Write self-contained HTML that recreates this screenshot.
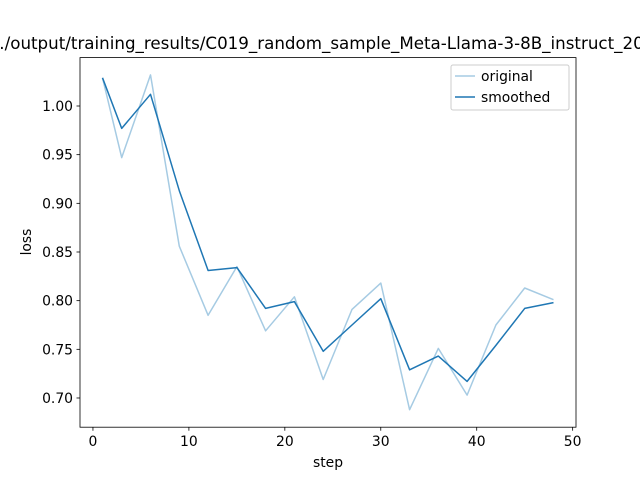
<!DOCTYPE html>
<html><head><meta charset="utf-8"><style>
body{margin:0;background:#fff}
svg text{font-family:"DejaVu Sans","Liberation Sans",sans-serif;fill:#000}
</style></head><body>
<svg id="s" width="640" height="480" viewBox="0 0 640 480" xmlns="http://www.w3.org/2000/svg">
<rect width="640" height="480" fill="#fff"/>
<text x="-6" y="49" font-size="16.7">../output/training_results/C019_random_sample_Meta-Llama-3-8B_instruct_20240101</text>
<g id="plot"></g>
<rect x="80" y="57.6" width="496" height="369.6" fill="none" stroke="#000" stroke-width="0.8"/>
<g id="ticks" font-size="13.9"></g>
<text x="328" y="467" font-size="13.9" text-anchor="middle">step</text>
<text transform="translate(31,242) rotate(-90)" font-size="13.9" text-anchor="middle">loss</text>
<rect x="451" y="65" width="118" height="45" rx="2" fill="#fff" fill-opacity="0.8" stroke="#ccc" stroke-width="1"/>
<line x1="455" y1="76" x2="475" y2="76" stroke="#a6cbe3" stroke-width="1.5"/>
<text x="481" y="81" font-size="13.9">original</text>
<line x1="455" y1="97" x2="475" y2="97" stroke="#1f77b4" stroke-width="1.5"/>
<text x="481" y="102" font-size="13.9">smoothed</text>
</svg>
<script>
var st=[1,3,6,9,12,15,18,21,24,27,30,33,36,39,42,45,48];
var o=[1.029,0.947,1.032,0.856,0.785,0.835,0.769,0.804,0.719,0.791,0.818,0.688,0.751,0.703,0.775,0.813,0.801];
var sm=[1.029,0.977,1.012,0.913,0.831,0.834,0.792,0.799,0.748,0.775,0.802,0.729,0.743,0.717,0.754,0.792,0.798];
function X(s){return 92.95+s*9.594}
function Y(v){return 106+(1-v)*973.3}
function pl(a,c){return '<polyline fill="none" stroke="'+c+'" stroke-width="1.5" stroke-linejoin="round" points="'+st.map(function(s,i){return X(s).toFixed(1)+','+Y(a[i]).toFixed(1)}).join(' ')+'"/>'}
document.getElementById('plot').innerHTML=pl(o,'#a6cbe3')+pl(sm,'#1f77b4');
var t='';
[0,10,20,30,40,50].forEach(function(v){var x=X(v);t+='<line x1="'+x+'" y1="427.2" x2="'+x+'" y2="430.7" stroke="#000" stroke-width="0.8"/><text x="'+x+'" y="446" text-anchor="middle">'+v+'</text>'});
[0.70,0.75,0.80,0.85,0.90,0.95,1.00].forEach(function(v){var y=Y(v);t+='<line x1="76.5" y1="'+y+'" x2="80" y2="'+y+'" stroke="#000" stroke-width="0.8"/><text x="73" y="'+(y+5)+'" text-anchor="end">'+v.toFixed(2)+'</text>'});
document.getElementById('ticks').innerHTML=t;
</script>
</body></html>
